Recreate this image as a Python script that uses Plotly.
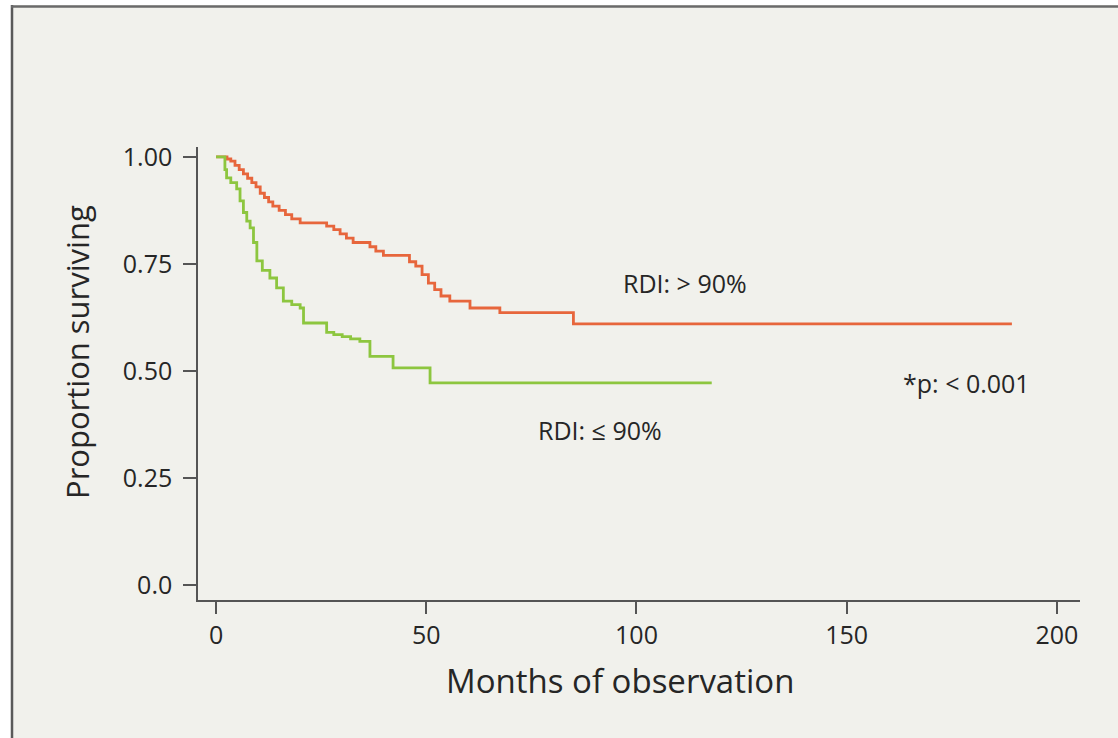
import plotly.graph_objects as go

# Kaplan-Meier step data (months, proportion surviving)
time_high = [0, 2.6, 3.5, 4.5, 5.5, 6.5, 7.5, 8.5, 9.5, 10.5, 11.5, 12.5, 13.5, 15, 16.5, 18, 20,
             26.3, 28, 29.5, 31, 32.6, 36.6, 38, 39.8, 46, 47.5, 49, 50.5, 52, 53.5, 55.6, 60.4,
             67.5, 85, 189.3]
surv_high = [1.0, 0.995, 0.99, 0.98, 0.97, 0.96, 0.95, 0.94, 0.93, 0.915, 0.905, 0.895, 0.885,
             0.875, 0.865, 0.855, 0.846, 0.838, 0.83, 0.82, 0.81, 0.80, 0.79, 0.78, 0.77, 0.755,
             0.745, 0.725, 0.705, 0.69, 0.675, 0.663, 0.647, 0.636, 0.61, 0.61]

time_low = [0, 2.1, 2.5, 3.5, 4.9, 5.7, 6.5, 7.3, 8.1, 8.9, 9.7, 11, 12.8, 14.4, 16, 18, 20, 20.8,
            26.3, 28, 30, 32, 34.2, 36.6, 42.1, 50.9, 117.9]
surv_low = [1.0, 0.97, 0.951, 0.94, 0.925, 0.897, 0.87, 0.85, 0.834, 0.8, 0.757, 0.735, 0.717,
            0.694, 0.663, 0.655, 0.647, 0.612, 0.59, 0.585, 0.58, 0.575, 0.569, 0.534, 0.507,
            0.472, 0.472]

x_ticks = [0, 50, 100, 150, 200]
y_ticks = [0.0, 0.25, 0.5, 0.75, 1.0]
y_tick_labels = ["0.0", "0.25", "0.50", "0.75", "1.00"]

FONT = "Open Sans"
BG = "#f1f1ec"
TXT = "#262626"

fig = go.Figure()
fig.add_trace(go.Scatter(x=time_high, y=surv_high, mode="lines", line=dict(shape="hv", color="#e7663c", width=2.8),
                         showlegend=False, hoverinfo="skip"))
fig.add_trace(go.Scatter(x=time_low, y=surv_low, mode="lines", line=dict(shape="hv", color="#8dc63f", width=2.8),
                         showlegend=False, hoverinfo="skip"))

L, R, T, B = 198, 38, 147, 138
W, H = 1118, 738
PW, PH = W - L - R, H - T - B


def px(x):
    return (x - L) / PW


def py(y):
    return (H - B - y) / PH


shapes = [
    dict(type="rect", xref="paper", yref="paper", x0=px(0), x1=px(11), y0=py(H), y1=py(0),
         fillcolor="white", line=dict(width=0), layer="below"),
    dict(type="rect", xref="paper", yref="paper", x0=px(0), x1=px(W), y0=py(5), y1=py(0),
         fillcolor="white", line=dict(width=0), layer="below"),
    dict(type="line", xref="paper", yref="paper", x0=px(12), x1=px(12), y0=py(5), y1=py(H),
         line=dict(color="#5a5a5a", width=2.5)),
    dict(type="line", xref="paper", yref="paper", x0=px(11), x1=px(W), y0=py(6.5), y1=py(6.5),
         line=dict(color="#6a6a6a", width=2.5)),
]

annotations = [
    dict(x=111.5, y=0.706, text="RDI: > 90%", showarrow=False, font=dict(size=25, color=TXT, family=FONT)),
    dict(x=91.3, y=0.362, text="RDI: ≤ 90%", showarrow=False, font=dict(size=25, color=TXT, family=FONT)),
    dict(x=178.4, y=0.472, text="*p: < 0.001", showarrow=False, font=dict(size=25, color=TXT, family=FONT)),
    # axis titles
    dict(xref="paper", yref="paper", x=px(620), y=py(680), text="Months of observation", showarrow=False,
         xanchor="center", yanchor="middle", font=dict(size=33, color=TXT, family=FONT)),
    dict(xref="paper", yref="paper", x=px(77), y=py(352), text="Proportion surviving", showarrow=False,
         textangle=-90, xanchor="center", yanchor="middle", font=dict(size=31, color=TXT, family=FONT)),
]

fig.update_layout(
    width=W, height=H,
    margin=dict(l=L, r=R, t=T, b=B),
    paper_bgcolor=BG, plot_bgcolor=BG,
    font=dict(family=FONT, color=TXT),
    shapes=shapes,
    annotations=annotations,
    xaxis=dict(range=[-4.3, 205.5], tickvals=x_ticks, ticks="outside", ticklen=12, tickwidth=1.5,
               tickcolor="#555", showline=True, linecolor="#555", linewidth=1.5, showgrid=False,
               zeroline=False, tickfont=dict(size=25, family=FONT, color=TXT)),
    yaxis=dict(range=[-0.035, 1.023], tickvals=y_ticks, ticktext=y_tick_labels, ticks="outside", ticklen=13,
               tickwidth=1.5, tickcolor="#555", showline=True, linecolor="#555", linewidth=1.5, showgrid=False,
               zeroline=False, tickfont=dict(size=25, family=FONT, color=TXT), ticklabelstandoff=6),
)

fig.write_html("out.html", config={"displayModeBar": False}, post_script="document.body.style.margin='0';")
